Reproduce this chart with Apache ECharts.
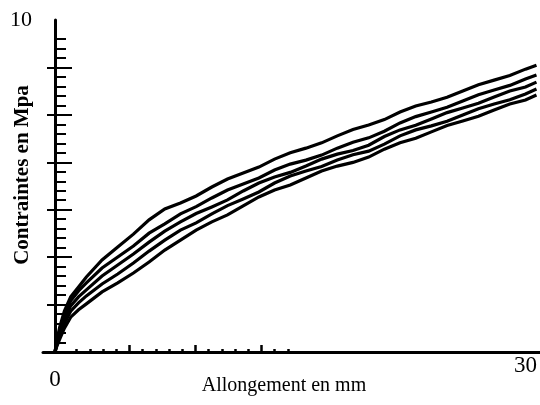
<!DOCTYPE html>
<html>
<head>
<meta charset="utf-8">
<script src="https://cdn.jsdelivr.net/npm/echarts@6/dist/echarts.min.js"></script>
<style>
  html, body { margin: 0; padding: 0; background: #fff; }
  #chart { width: 540px; height: 405px; }
</style>
</head>
<body>
<div id="chart"></div>
<script>
// Elongation (mm) at which each stress reading was taken
const allongement = [0, 0.1, 0.3, 0.6, 1, 1.5, 2, 3, 4, 5, 6, 7, 8, 9, 10, 11, 12, 13, 14, 15,
  16, 17, 18, 19, 20, 21, 22, 23, 24, 25, 26, 27, 28, 29, 30, 30.7];

// Stress (MPa) for the five test pieces
const essai1 = [0, 0.30, 0.75, 1.23, 1.66, 1.96, 2.26, 2.77, 3.16, 3.55, 3.98, 4.31, 4.49, 4.70, 4.97,
  5.21, 5.39, 5.57, 5.81, 6.00, 6.14, 6.30, 6.51, 6.70, 6.84, 7.00, 7.23, 7.41, 7.53, 7.67, 7.86,
  8.05, 8.19, 8.33, 8.52, 8.64];
const essai2 = [0, 0.27, 0.66, 1.11, 1.54, 1.84, 2.08, 2.53, 2.86, 3.19, 3.58, 3.86, 4.16, 4.38, 4.64,
  4.88, 5.06, 5.24, 5.48, 5.66, 5.78, 5.93, 6.14, 6.32, 6.45, 6.65, 6.90, 7.09, 7.23, 7.37, 7.56,
  7.75, 7.89, 8.03, 8.22, 8.34];
const essai3 = [0, 0.24, 0.57, 0.99, 1.39, 1.66, 1.87, 2.29, 2.62, 2.95, 3.31, 3.64, 3.92, 4.17, 4.37,
  4.58, 4.85, 5.09, 5.27, 5.41, 5.60, 5.81, 5.96, 6.07, 6.23, 6.49, 6.69, 6.83, 7.02, 7.21, 7.35,
  7.49, 7.68, 7.86, 7.98, 8.13];
const essai4 = [0, 0.18, 0.48, 0.87, 1.23, 1.48, 1.69, 2.05, 2.35, 2.68, 3.04, 3.37, 3.67, 3.89, 4.16,
  4.41, 4.61, 4.82, 5.09, 5.30, 5.45, 5.59, 5.78, 5.94, 6.05, 6.26, 6.51, 6.69, 6.81, 6.95, 7.14,
  7.33, 7.47, 7.60, 7.77, 7.92];
const essai5 = [0, 0.15, 0.39, 0.72, 1.05, 1.27, 1.45, 1.81, 2.08, 2.38, 2.71, 3.07, 3.37, 3.67, 3.92,
  4.13, 4.40, 4.67, 4.88, 5.03, 5.24, 5.45, 5.60, 5.71, 5.87, 6.11, 6.30, 6.44, 6.63, 6.82, 6.96,
  7.10, 7.29, 7.47, 7.59, 7.74];

// Axis end labels
const xTickLabels = ['0', '30'];
const yTickLabels = ['10'];

// Graduation marks: stress axis split in 35 small steps, elongation ruler in 17 steps
const yGraduations = Array.from({ length: 36 }, (_, i) => String(i));
const xGraduations = Array.from({ length: 18 }, (_, i) => String(i));

const series = [essai1, essai2, essai3, essai4, essai5].map((vals, k) => ({
  name: 'Essai ' + (k + 1),
  type: 'line',
  xAxisIndex: 0,
  yAxisIndex: 0,
  showSymbol: false,
  silent: true,
  lineStyle: { color: '#000', width: 3.2, join: 'miter' },
  data: allongement.map((x, i) => [x, vals[i]])
}));

const serif = '"Liberation Serif", "DejaVu Serif", serif';
const chart = echarts.init(document.getElementById('chart'));

chart.setOption({
  backgroundColor: '#fff',
  animation: false,
  grid: [
    { left: 55, right: 0, top: 20, bottom: 53 },       // curves
    { left: 43, right: 0, top: 20, bottom: 53 },       // elongation axis line
    { left: 63.5, width: 224.4, top: 20, bottom: 53 }  // elongation ruler marks
  ],
  xAxis: [
    {
      type: 'value', gridIndex: 0, position: 'bottom', min: 0, max: 30.8, interval: 30,
      axisLine: { show: false }, axisTick: { show: false }, splitLine: { show: false },
      axisLabel: {
        margin: 2,
        showMaxLabel: false,
        formatter: v => v === 0 ? '{lo|' + xTickLabels[0] + '}' : (v === 30 ? '{hi|' + xTickLabels[1] + '}' : ''),
        rich: {
          lo: { fontFamily: serif, fontSize: 23, color: '#000', padding: [14, 0, 0, 0] },
          hi: { fontFamily: serif, fontSize: 23, color: '#000', padding: [0, 0, 0, 0] }
        }
      }
    },
    {
      type: 'value', gridIndex: 1, position: 'bottom', min: 0, max: 1,
      axisLine: { show: true, lineStyle: { color: '#000', width: 3 } },
      axisTick: { show: false }, axisLabel: { show: false }, splitLine: { show: false }
    },
    {
      type: 'category', gridIndex: 2, position: 'bottom', data: xGraduations, boundaryGap: false,
      axisLine: { show: false },
      axisTick: { show: true, inside: true, length: 3, interval: i => i % 5 !== 0, lineStyle: { color: '#000', width: 2.5 } },
      axisLabel: { show: false }, splitLine: { show: false }
    },
    {
      type: 'category', gridIndex: 2, position: 'bottom', data: xGraduations, boundaryGap: false,
      axisLine: { show: false },
      axisTick: { show: true, inside: true, length: 7, interval: i => i % 5 === 0 && i > 0, lineStyle: { color: '#000', width: 2.5 } },
      axisLabel: { show: false }, splitLine: { show: false }
    }
  ],
  yAxis: [
    {
      type: 'value', gridIndex: 0, min: 0, max: 10, interval: 10,
      axisLine: { show: false }, axisTick: { show: false }, splitLine: { show: false },
      axisLabel: {
        margin: 23,
        formatter: v => v === 10 ? yTickLabels[0] : '',
        fontFamily: serif, fontSize: 22, color: '#000'
      }
    },
    {
      type: 'category', gridIndex: 0, position: 'left', data: yGraduations, boundaryGap: false,
      axisLine: { show: true, lineStyle: { color: '#000', width: 3 } },
      axisTick: { show: true, inside: true, length: 11, interval: i => i > 0 && i < 34 && i % 5 !== 0, lineStyle: { color: '#000', width: 2 } },
      axisLabel: { show: false }, splitLine: { show: false }
    },
    {
      type: 'category', gridIndex: 0, position: 'left', data: yGraduations, boundaryGap: false,
      axisLine: { show: false },
      axisTick: { show: true, inside: true, length: 17, interval: i => i > 0 && i < 35 && i % 5 === 0, lineStyle: { color: '#000', width: 2 } },
      axisLabel: { show: false }, splitLine: { show: false }
    },
    {
      type: 'category', gridIndex: 0, position: 'left', data: yGraduations, boundaryGap: false,
      axisLine: { show: false },
      axisTick: { show: true, inside: false, length: 8, interval: i => i > 0 && i < 35 && i % 5 === 0, lineStyle: { color: '#000', width: 2 } },
      axisLabel: { show: false }, splitLine: { show: false }
    },
    { type: 'value', gridIndex: 1, show: false },
    { type: 'value', gridIndex: 2, show: false }
  ],
  graphic: [
    {
      type: 'text', x: 284, y: 386,
      style: { text: 'Allongement en mm', font: '20px ' + serif, fill: '#000', align: 'center', verticalAlign: 'middle' }
    },
    {
      type: 'text', x: 23, y: 175, rotation: Math.PI / 2,
      style: { text: 'Contraintes en Mpa', font: 'bold 21px ' + serif, fill: '#000', align: 'center', verticalAlign: 'middle' }
    }
  ],
  series: series
});
</script>
</body>
</html>
